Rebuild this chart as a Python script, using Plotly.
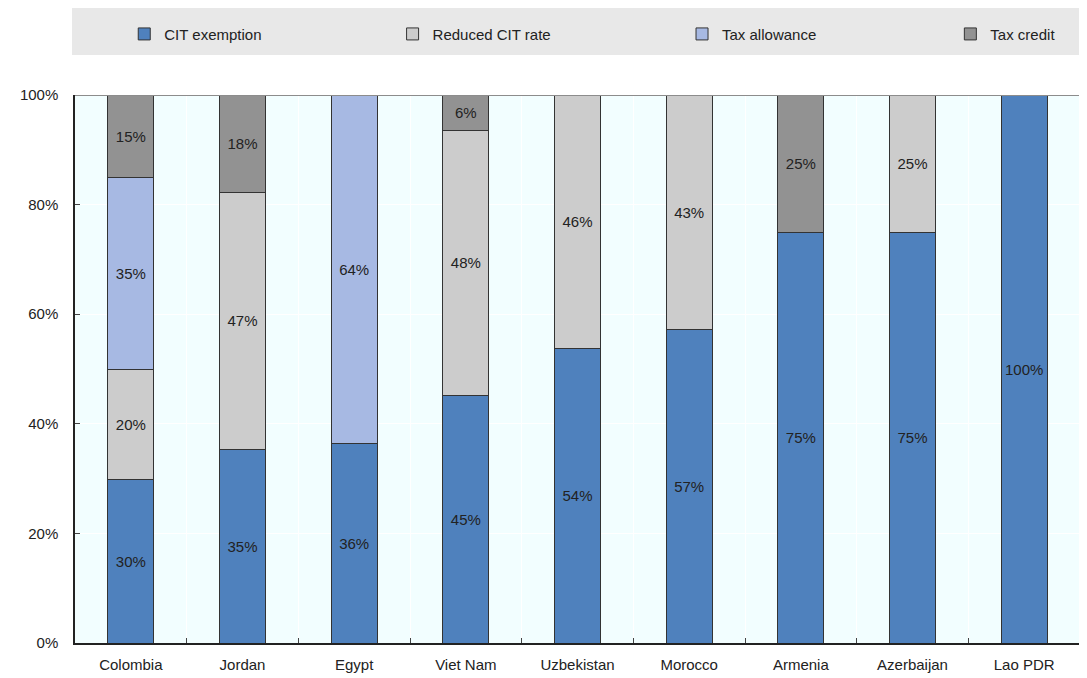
import plotly.graph_objects as go

countries = ["Colombia", "Jordan", "Egypt", "Viet Nam", "Uzbekistan", "Morocco", "Armenia", "Azerbaijan", "Lao PDR"]
cit_exemption = [29.9, 35.4, 36.4, 45.2, 53.8, 57.2, 75.0, 75.0, 100.0]
reduced_cit_rate = [20.1, 46.9, 0, 48.4, 46.2, 42.8, 0, 25.0, 0]
tax_allowance = [35.0, 0, 63.6, 0, 0, 0, 0, 0, 0]
tax_credit = [15.0, 17.7, 0, 6.4, 0, 0, 25.0, 0, 0]

series = [
    ("CIT exemption", cit_exemption, "#4F81BD"),
    ("Reduced CIT rate", reduced_cit_rate, "#CCCCCC"),
    ("Tax allowance", tax_allowance, "#A7B9E3"),
    ("Tax credit", tax_credit, "#929292"),
]
legend_ids = ["legend", "legend2", "legend3", "legend4"]
legend_x = [0.049, 0.316, 0.604, 0.871]

FONT = "Liberation Sans, Arial, sans-serif"
TXT = "#222222"

fig = go.Figure()
for (name, vals, color), lid in zip(series, legend_ids):
    fig.add_trace(go.Bar(
        x=countries, y=vals, name=name, legend=lid,
        marker=dict(color=color, line=dict(color="#333333", width=1)),
        text=[f"{v:.0f}%" if v > 0 else "" for v in vals],
        textposition="inside", insidetextanchor="middle",
        textfont=dict(family=FONT, size=15, color=TXT),
        width=0.41,
    ))

legend_common = dict(orientation="h", y=1.111, xanchor="left", yanchor="middle",
                     bgcolor="rgba(0,0,0,0)", font=dict(family=FONT, size=15, color=TXT))
layout_legends = {lid: dict(x=lx, **legend_common) for lid, lx in zip(legend_ids, legend_x)}

fig.update_layout(
    barmode="stack",
    width=1079, height=670,
    margin=dict(l=67, r=7, t=87, b=35, autoexpand=False),
    paper_bgcolor="white",
    plot_bgcolor="#F2FEFF",
    font=dict(family=FONT, size=15, color=TXT),
    showlegend=True,
    shapes=[
        dict(type="rect", xref="paper", yref="paper", x0=-0.003, x1=1.01, y0=1.073, y1=1.159,
             fillcolor="#E8E8E8", line=dict(width=0), layer="below"),
        dict(type="line", xref="paper", yref="y", x0=0, x1=1, y0=100, y1=100,
             line=dict(color="#8C8C8C", width=2)),
    ],
    **layout_legends,
)

fig.update_xaxes(
    showline=True, linecolor="#222222", linewidth=1.5,
    tickson="boundaries", ticks="inside", ticklen=5, tickcolor="#444444",
    showgrid=True, gridcolor="#FFFFFF", gridwidth=1,
    ticklabelstandoff=7,
    tickfont=dict(family=FONT, size=15, color=TXT),
)
fig.update_yaxes(
    range=[0, 100], dtick=20, ticksuffix="%",
    showline=True, linecolor="#222222", linewidth=1.5,
    ticks="inside", ticklen=5, tickcolor="#444444",
    showgrid=True, gridcolor="#FFFFFF", gridwidth=1,
    zeroline=False, ticklabelstandoff=12,
    tickfont=dict(family=FONT, size=15, color=TXT),
)

fig.write_html("out.html")
